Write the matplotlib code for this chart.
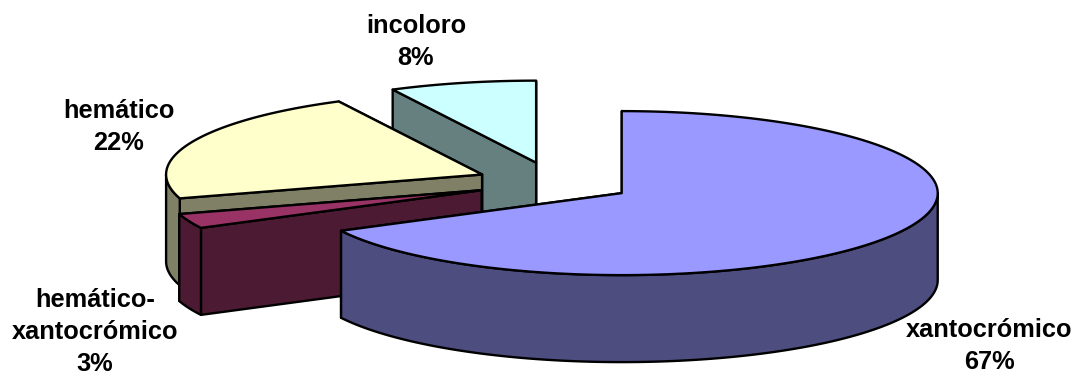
import numpy as np
import matplotlib
matplotlib.use("Agg")
import matplotlib.pyplot as plt

# clockwise from 12 o'clock
categories = ["xantocrómico", "hemático-\nxantocrómico", "hemático", "incoloro"]
values = [67.4, 2.9, 22.2, 7.5]

top_colors = ["#9999FF", "#993366", "#FFFFCC", "#CCFFFF"]
side_colors = ["#4D4D80", "#4D1A33", "#808066", "#668080"]
label_pos = [(989.5, 346), (95, 332), (119, 127), (416, 42)]

# pie geometry in pixels
cx, cy = 554.5, 182.5
rx, ry = 316, 82
depth = 87
explode = 0.249


def rim(t, center):
    # t in degrees, clockwise from the top of the ellipse
    r = np.radians(t)
    return center[0] + rx * np.sin(r), center[1] - ry * np.cos(r)


def arc(t0, t1, center):
    ts = np.linspace(t0, t1, max(int(abs(t1 - t0)), 2) + 1)
    xs, ys = rim(ts, center)
    return list(xs), list(ys)


def cut_face(ax, t, center, color):
    x, y = rim(t, center)
    ax.fill([center[0], x, x, center[0]],
            [center[1], y, y + depth, center[1] + depth],
            facecolor=color, edgecolor="black", linewidth=1.7, joinstyle="round")


def draw_slice(ax, t0, t1, top, side):
    mid = (t0 + t1) / 2
    center = rim(mid, (cx, cy))
    center = (cx + (center[0] - cx) * explode, cy + (center[1] - cy) * explode)

    cut_face(ax, t1, center, side)
    cut_face(ax, t0, center, side)

    # outer wall, only the front half of the ellipse shows
    a, b = max(t0, 90), min(t1, 270)
    if a < b:
        xs, ys = arc(a, b, center)
        ax.fill(xs + xs[::-1], ys + [v + depth for v in ys[::-1]],
                facecolor=side, edgecolor="black", linewidth=1.7, joinstyle="round")

    xs, ys = arc(t0, t1, center)
    ax.fill([center[0]] + xs, [center[1]] + ys,
            facecolor=top, edgecolor="black", linewidth=1.7, joinstyle="round")


def main():
    fig = plt.figure(figsize=(10.77, 3.76), dpi=100)
    ax = fig.add_axes([0, 0, 1, 1])
    ax.set_xlim(0, 1077)
    ax.set_ylim(376, 0)
    ax.axis("off")

    angles = np.cumsum([0] + values) / sum(values) * 360
    for i in [3, 2, 1, 0]:
        draw_slice(ax, angles[i], angles[i + 1], top_colors[i], side_colors[i])

    for name, val, pos in zip(categories, values, label_pos):
        ax.text(pos[0], pos[1], f"{name}\n{round(val)}%", ha="center", va="center",
                family="Liberation Sans", fontweight="bold", fontsize=18.3,
                linespacing=1.42)

    fig.savefig("out.png", dpi=100)


if __name__ == "__main__":
    main()
